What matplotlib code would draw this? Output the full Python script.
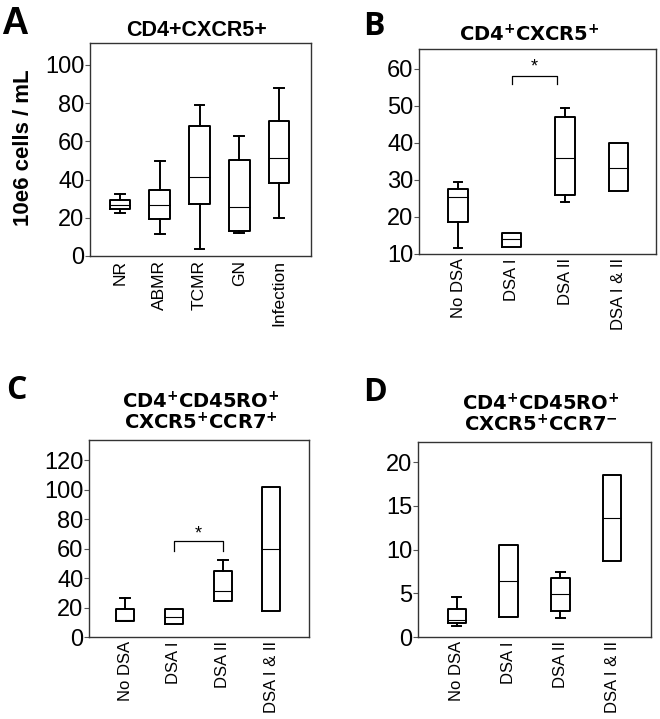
import matplotlib
matplotlib.use('Agg')
import matplotlib.pyplot as plt

plt.rcParams['font.family'] = ['Liberation Sans', 'DejaVu Sans']
plt.rcParams['mathtext.fontset'] = 'dejavusans'

# panel A - CD4+CXCR5+ by diagnosis
catsA = ['NR', 'ABMR', 'TCMR', 'GN', 'Infection']
loA = [22.7, 11.7, 3.5, 12.0, 20.1]
q1A = [24.4, 19.4, 27.2, 13.1, 38.4]
medA = [26.9, 26.9, 41.5, 25.8, 51.5]
q3A = [29.1, 34.6, 68.1, 50.3, 70.5]
hiA = [32.3, 49.6, 79.1, 62.8, 87.8]

# panels B-D by DSA class
catsDSA = ['No DSA', 'DSA I', 'DSA II', 'DSA I & II']

loB = [11.7, 12.0, 24.0, 26.9]
q1B = [18.7, 12.0, 25.8, 26.9]
medB = [25.5, 14.1, 35.9, 33.3]
q3B = [27.5, 15.6, 46.9, 39.9]
hiB = [29.4, 15.6, 49.5, 39.9]

loC = [10.6, 8.6, 24.5, 17.9]
q1C = [10.6, 8.6, 24.5, 17.9]
medC = [11.2, 13.8, 31.2, 59.5]
q3C = [19.2, 19.0, 44.8, 101.4]
hiC = [26.7, 19.0, 52.1, 101.4]

loD = [1.26, 2.29, 2.17, 8.65]
q1D = [1.56, 2.29, 2.97, 8.65]
medD = [1.98, 6.40, 4.95, 13.6]
q3D = [3.24, 10.55, 6.78, 18.55]
hiD = [4.57, 10.55, 7.39, 18.55]

# significance brackets: (x1, x2, top, leg bottom, star y)
sigB = (2, 2.85, 58.1, 55.9, 60.5)
sigC = (2, 3, 65.0, 58.4, 70.2)

W, H = 660, 719
fig = plt.figure(figsize=(6.6, 7.19), dpi=100)

P = r'$^{\mathbf{+}}$'
M = r'$^{\mathbf{-}}$'


def add_ax(l, t, r, b):
    return fig.add_axes([l / W, 1 - b / H, (r - l) / W, (b - t) / H])


def draw_box(ax, cats, lo, q1, med, q3, hi, width, capw, ylim, xlim, yticks, xfs):
    stats = []
    caps = []
    for i in range(len(cats)):
        stats.append(dict(whislo=lo[i], q1=q1[i], med=med[i], q3=q3[i],
                          whishi=hi[i], fliers=[]))
        caps.append(capw if (hi[i] > q3[i] or lo[i] < q1[i]) else 0)
    pos = list(range(1, len(cats) + 1))
    ax.bxp(stats, positions=pos, widths=width, capwidths=caps,
           showfliers=False,
           boxprops=dict(color='black', linewidth=1.4),
           whiskerprops=dict(color='black', linewidth=1.4),
           capprops=dict(color='black', linewidth=1.4),
           medianprops=dict(color='black', linewidth=0.8))
    ax.set_ylim(*ylim)
    ax.set_xlim(*xlim)
    ax.set_yticks(yticks)
    ax.set_xticks(pos)
    ax.set_xticklabels(cats, rotation=90, fontsize=xfs)
    ax.tick_params(axis='x', length=0, pad=3)
    ax.tick_params(axis='y', length=3.5, width=0.8, pad=0.5, labelsize=17,
                   color='#555555')
    for s in ax.spines.values():
        s.set_linewidth(1.0)
        s.set_color('#333333')


def draw_sig(ax, sig):
    x1, x2, top, bot, sy = sig
    ax.plot([x1, x1, x2, x2], [bot, top, top, bot], color='black', lw=0.9)
    ax.text((x1 + x2) / 2, sy, '*', ha='center', va='center', fontsize=13)


title_font = ['DejaVu Sans']
letter_font = ['Open Sans', 'DejaVu Sans']

# A
axA = add_ax(90, 43, 311, 256)
draw_box(axA, catsA, loA, q1A, medA, q3A, hiA, 0.52, 0.25, (0, 111.5),
         (0.25, 5.8), [0, 20, 40, 60, 80, 100], 12.5)
axA.text(0.48, 1.061, 'CD4+CXCR5+', transform=axA.transAxes, ha='center',
         va='center', fontsize=15.5, fontweight='bold')
fig.text(24 / W, 1 - 148 / H, '10e6 cells / mL', rotation=90, ha='center',
         va='center', fontsize=16, fontweight='bold')
fig.text(1 / W, 1 - 6 / H, 'A', ha='left', va='top', fontsize=27,
         fontweight='bold')

# B
axB = add_ax(419, 49, 656, 254)
draw_box(axB, catsDSA, loB, q1B, medB, q3B, hiB, 0.36, 0.16, (10, 65.3),
         (0.27, 4.7), [10, 20, 30, 40, 50, 60], 12)
draw_sig(axB, sigB)
axB.text(0.464, 1.036, 'CD4' + P + 'CXCR5' + P, transform=axB.transAxes,
         ha='center', va='baseline', fontsize=14, fontweight='bold',
         family=title_font)
fig.text(363 / W, 1 - 10 / H, 'B', ha='left', va='top', fontsize=23,
         fontweight='bold', family=letter_font)

# C
axC = add_ax(89, 440, 309, 637)
draw_box(axC, catsDSA, loC, q1C, medC, q3C, hiC, 0.37, 0.2, (0, 133.6),
         (0.26, 4.77), [0, 20, 40, 60, 80, 100, 120], 12)
draw_sig(axC, sigC)
axC.text(0.508, 1.162, 'CD4' + P + 'CD45RO' + P, transform=axC.transAxes,
         ha='center', va='baseline', fontsize=14, fontweight='bold',
         family=title_font)
axC.text(0.508, 1.056, 'CXCR5' + P + 'CCR7' + P, transform=axC.transAxes,
         ha='center', va='baseline', fontsize=14, fontweight='bold',
         family=title_font)
fig.text(6 / W, 1 - 374 / H, 'C', ha='left', va='top', fontsize=23,
         fontweight='bold', family=letter_font)

# D
axD = add_ax(418, 442, 651, 637)
draw_box(axD, catsDSA, loD, q1D, medD, q3D, hiD, 0.36, 0.17, (0, 22.3),
         (0.25, 4.75), [0, 5, 10, 15, 20], 12)
axD.text(0.527, 1.164, 'CD4' + P + 'CD45RO' + P, transform=axD.transAxes,
         ha='center', va='baseline', fontsize=14, fontweight='bold',
         family=title_font)
axD.text(0.527, 1.056, 'CXCR5' + P + 'CCR7' + M, transform=axD.transAxes,
         ha='center', va='baseline', fontsize=14, fontweight='bold',
         family=title_font)
fig.text(363 / W, 1 - 376 / H, 'D', ha='left', va='top', fontsize=23,
         fontweight='bold', family=letter_font)

fig.savefig('out.png', dpi=100)
